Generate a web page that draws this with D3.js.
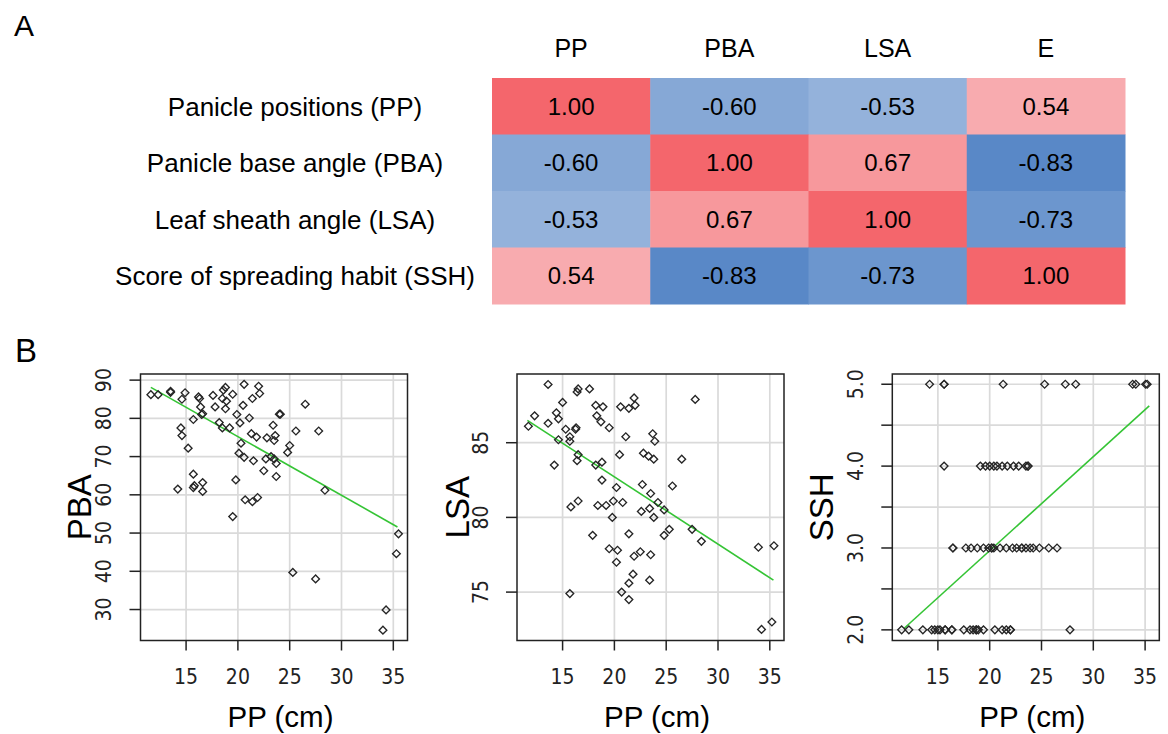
<!DOCTYPE html>
<html>
<head>
<meta charset="utf-8">
<script src="https://cdn.jsdelivr.net/npm/d3@7"></script>
<style>
  body { margin: 0; background: #fff; }
  svg { display: block; font-family: "Liberation Sans", Arial, sans-serif; }
  .tick-lab { font-family: "Liberation Sans Narrow", "Arial Narrow", "DejaVu Sans Condensed", sans-serif; }
</style>
</head>
<body>
<div id="chart"></div>
<script>
// ---- data ----
const traits = ["PP", "PBA", "LSA", "E"];
const rowLabels = ["Panicle positions (PP)", "Panicle base angle (PBA)", "Leaf sheath angle (LSA)", "Score of spreading habit (SSH)"];
const corr = [
  [1.00, -0.60, -0.53, 0.54],
  [-0.60, 1.00, 0.67, -0.83],
  [-0.53, 0.67, 1.00, -0.73],
  [0.54, -0.83, -0.73, 1.00]
];

// PP (cm) vs PBA
const pbaPoints = [
  [11.6, 86.2], [12.3, 86.2], [13.5, 87.1], [13.5, 86.8], [14.9, 86.7], [14.6, 85.0], [16.2, 85.6], [16.3, 85.2],
  [16.4, 83.0], [16.5, 81.0], [16.6, 81.2], [15.7, 79.7], [14.5, 77.5], [14.6, 75.5], [15.2, 72.2], [14.2, 61.5],
  [15.7, 65.4], [15.8, 62.4], [16.6, 63.2], [16.6, 60.9], [15.7, 61.9], [17.6, 86.0], [17.8, 83.0], [18.2, 78.9],
  [18.5, 77.5], [18.6, 87.4], [18.8, 88.1], [18.5, 85.2], [18.8, 82.5], [19.5, 86.3], [19.2, 77.5], [19.9, 81.0],
  [20.2, 78.8], [20.6, 88.9], [20.5, 83.4], [21.1, 80.1], [20.3, 73.5], [20.1, 70.9], [20.6, 69.8], [21.5, 68.9],
  [19.8, 63.9], [19.5, 54.3], [20.7, 58.7], [21.4, 58.2], [21.9, 59.3], [21.4, 85.2], [22.1, 86.5], [22.0, 88.4],
  [21.3, 76.0], [21.8, 75.1], [22.5, 66.3], [22.7, 69.4], [22.8, 74.9], [23.4, 78.2], [23.5, 74.2], [23.5, 69.4],
  [23.7, 68.2], [23.7, 64.8], [24.0, 81.1], [24.1, 81.1], [25.0, 72.9], [24.8, 71.1], [25.6, 76.7], [26.5, 83.7],
  [27.8, 76.7], [28.4, 61.2], [25.3, 39.7], [27.5, 38.0], [35.5, 49.8], [35.3, 44.6], [34.3, 29.9], [34.0, 24.6],
  [23.6, 75.5], [23.2, 70.0], [18.9, 84.5]
];
const pbaFit = [[11.6, 88.1], [35.4, 51.6]];
const pbaTicks = [30, 40, 50, 60, 70, 80, 90];

// PP (cm) vs LSA
const lsaPoints = [
  [11.7, 86.1], [12.3, 86.8], [13.6, 88.9], [13.6, 86.3], [14.2, 83.5], [14.4, 87.0], [14.6, 86.6], [15.0, 87.7],
  [14.6, 85.2], [15.3, 85.9], [15.7, 85.4], [15.7, 85.1], [16.25, 85.9], [16.3, 86.0], [16.5, 84.2], [16.4, 83.8],
  [15.8, 80.7], [16.5, 81.1], [15.7, 74.9], [16.4, 88.4], [16.5, 88.6], [17.6, 88.6], [18.2, 87.5], [18.9, 87.4],
  [18.3, 86.8], [18.7, 86.4], [19.5, 86.0], [18.2, 83.5], [18.8, 83.7], [18.8, 82.5], [18.4, 80.8], [19.2, 80.8],
  [19.9, 81.1], [20.8, 81.0], [20.2, 82.0], [19.8, 80.0], [17.9, 78.8], [19.5, 77.9], [20.3, 77.8], [20.2, 77.0],
  [20.5, 84.2], [20.6, 87.4], [21.4, 87.3], [21.9, 88.0], [22.0, 87.5], [21.1, 85.4], [21.4, 78.9], [21.9, 77.4],
  [22.5, 77.7], [23.5, 77.5], [21.8, 76.2], [21.4, 75.6], [20.7, 75.0], [21.4, 74.5], [23.4, 75.8], [22.7, 82.2],
  [22.8, 84.3], [23.3, 84.1], [23.8, 83.9], [23.7, 85.6], [23.9, 85.1], [22.6, 80.4], [23.4, 80.6], [23.8, 80.0],
  [23.5, 81.6], [24.2, 81.0], [24.8, 80.5], [24.8, 78.8], [25.3, 79.2], [25.6, 82.1], [26.5, 83.9], [27.8, 87.9],
  [27.5, 79.2], [28.4, 78.4], [33.9, 78.0], [35.4, 78.1], [35.2, 73.0], [34.2, 72.5]
];
const lsaFit = [[11.6, 86.5], [35.35, 75.8]];
const lsaTicks = [75, 80, 85];

// PP (cm) vs SSH
const sshPoints = [
  [14.2, 5], [15.6, 5], [15.6, 5], [21.3, 5], [25.3, 5], [27.3, 5], [28.3, 5], [33.8, 5], [34.1, 5], [35.05, 5], [35.2, 5],
  [15.6, 4], [19.1, 4], [19.6, 4], [20.0, 4], [20.4, 4], [20.7, 4], [21.2, 4], [21.7, 4], [22.3, 4], [22.8, 4], [23.5, 4], [23.7, 4], [23.7, 4],
  [16.45, 3], [16.45, 3], [17.7, 3], [18.2, 3], [18.8, 3], [19.4, 3], [19.9, 3], [20.2, 3], [20.2, 3], [20.4, 3], [21.0, 3],
  [21.6, 3], [22.2, 3], [22.6, 3], [23.1, 3], [23.1, 3], [23.5, 3], [23.9, 3], [24.2, 3], [24.8, 3], [25.7, 3], [26.5, 3],
  [11.5, 2], [12.2, 2], [13.55, 2], [14.4, 2], [14.7, 2], [15.0, 2], [15.2, 2], [15.7, 2], [15.7, 2], [16.35, 2], [16.35, 2],
  [17.5, 2], [18.1, 2], [18.4, 2], [18.7, 2], [18.7, 2], [18.9, 2], [19.4, 2], [20.5, 2], [21.2, 2], [21.6, 2], [22.0, 2], [22.0, 2], [27.75, 2]
];
const sshFit = [[11.75, 2.02], [35.4, 4.735]];
const sshTicks = [2, 2.5, 3, 3.5, 4, 4.5, 5];

const ppTicks = [15, 20, 25, 30, 35];

// ---- canvas ----
const svg = d3.select("#chart").append("svg")
    .attr("width", 1168)
    .attr("height", 734);

svg.append("text").attr("x", 14).attr("y", 36).attr("font-size", 30).text("A");
svg.append("text").attr("x", 15).attr("y", 362).attr("font-size", 33).text("B");

// ---- heatmap (panel A) ----
const hx = d3.scaleBand().domain(traits).range([492, 1125]);
const hy = d3.scaleBand().domain(rowLabels).range([78, 304]);
const color = d3.scaleLinear().domain([-1, 0, 1]).range(["#3770bc", "#fdfdfd", "#f4666c"]);

svg.append("g").selectAll("text")
    .data(traits)
    .join("text")
    .attr("x", d => hx(d) + hx.bandwidth() / 2)
    .attr("y", 57)
    .attr("text-anchor", "middle")
    .attr("font-size", 25)
    .text(d => d);

svg.append("g").selectAll("text")
    .data(rowLabels)
    .join("text")
    .attr("x", 295)
    .attr("y", d => hy(d) + hy.bandwidth() / 2)
    .attr("dy", "0.36em")
    .attr("text-anchor", "middle")
    .attr("font-size", 26)
    .text(d => d);

const cells = [];
corr.forEach((row, i) => row.forEach((v, j) => cells.push({ r: rowLabels[i], c: traits[j], v: v })));

const cellG = svg.append("g").selectAll("g")
    .data(cells)
    .join("g");
cellG.append("rect")
    .attr("x", d => hx(d.c))
    .attr("y", d => hy(d.r))
    .attr("width", hx.bandwidth() + 0.5)
    .attr("height", hy.bandwidth() + 0.5)
    .attr("fill", d => color(d.v));
cellG.append("text")
    .attr("x", d => hx(d.c) + hx.bandwidth() / 2)
    .attr("y", d => hy(d.r) + hy.bandwidth() / 2)
    .attr("dy", "0.36em")
    .attr("text-anchor", "middle")
    .attr("font-size", 24)
    .text(d => d.v.toFixed(2));

// ---- scatter panels (panel B) ----
const plotTop = 374, plotBottom = 640.5;

function drawPanel(p) {
    var x = d3.scaleLinear().domain([10.6, 36.37]).range([p.left, p.left + 267]);
    var y = d3.scaleLinear().domain(p.yDomain).range([plotBottom, plotTop]);
    var g = svg.append("g");

    // grid
    g.selectAll(".vg").data(ppTicks).join("line")
        .attr("x1", d => x(d)).attr("x2", d => x(d))
        .attr("y1", plotTop).attr("y2", plotBottom)
        .attr("stroke", "#dadada").attr("stroke-width", 1.7);
    g.selectAll(".hg").data(p.yTicks).join("line")
        .attr("x1", p.left).attr("x2", p.left + 267)
        .attr("y1", d => y(d)).attr("y2", d => y(d))
        .attr("stroke", "#dadada").attr("stroke-width", 1.7);

    // fitted line
    g.append("path")
        .datum(p.fit)
        .attr("d", d3.line().x(d => x(d[0])).y(d => y(d[1])))
        .attr("stroke", "#35c435").attr("stroke-width", 1.6).attr("fill", "none");

    // points
    g.selectAll(".pt").data(p.points).join("path")
        .attr("d", d3.symbol(d3.symbolSquare, 30))
        .attr("transform", d => "translate(" + x(d[0]) + "," + y(d[1]) + ") rotate(45)")
        .attr("fill", "none").attr("stroke", "#262626").attr("stroke-width", 1.35);

    // box
    g.append("rect")
        .attr("x", p.left).attr("y", plotTop)
        .attr("width", 267).attr("height", plotBottom - plotTop)
        .attr("fill", "none").attr("stroke", "#222").attr("stroke-width", 1.5);

    // x axis
    g.selectAll(".xt").data(ppTicks).join("line")
        .attr("x1", d => x(d)).attr("x2", d => x(d))
        .attr("y1", plotBottom).attr("y2", plotBottom + 10)
        .attr("stroke", "#222").attr("stroke-width", 1.5);
    g.selectAll(".xl").data(ppTicks).join("text")
        .attr("class", "tick-lab")
        .attr("x", d => x(d)).attr("y", 684)
        .attr("text-anchor", "middle").attr("font-size", 21)
        .attr("fill", "#222")
        .text(d => d);
    g.append("text")
        .attr("x", p.left + 140).attr("y", 727)
        .attr("text-anchor", "middle").attr("font-size", 29.5)
        .text("PP (cm)");

    // y axis
    g.selectAll(".yt").data(p.yTicks).join("line")
        .attr("x1", p.left - 11).attr("x2", p.left)
        .attr("y1", d => y(d)).attr("y2", d => y(d))
        .attr("stroke", "#222").attr("stroke-width", 1.5);
    g.selectAll(".yl").data(p.yTicks.filter(p.showLabel)).join("text")
        .attr("class", "tick-lab")
        .attr("transform", d => "translate(" + (p.left - 37) + "," + y(d) + ") rotate(-90)")
        .attr("dy", "0.36em")
        .attr("text-anchor", "middle").attr("font-size", 21)
        .attr("fill", "#222")
        .text(p.fmt);
    g.append("text")
        .attr("transform", "translate(" + (p.left - p.titleOff) + "," + ((plotTop + plotBottom) / 2) + ") rotate(-90)")
        .attr("dy", "0.36em")
        .attr("text-anchor", "middle").attr("font-size", 33)
        .text(p.title);
}

drawPanel({ left: 140.5, yDomain: [21.9, 91.6], yTicks: pbaTicks, points: pbaPoints, fit: pbaFit,
    title: "PBA", titleOff: 61, showLabel: () => true, fmt: d => d });
drawPanel({ left: 517, yDomain: [71.76, 89.6], yTicks: lsaTicks, points: lsaPoints, fit: lsaFit,
    title: "LSA", titleOff: 60, showLabel: () => true, fmt: d => d });
drawPanel({ left: 892.3, yDomain: [1.87, 5.125], yTicks: sshTicks, points: sshPoints, fit: sshFit,
    title: "SSH", titleOff: 71, showLabel: d => d % 1 === 0, fmt: d => d.toFixed(1) });
</script>
</body>
</html>
